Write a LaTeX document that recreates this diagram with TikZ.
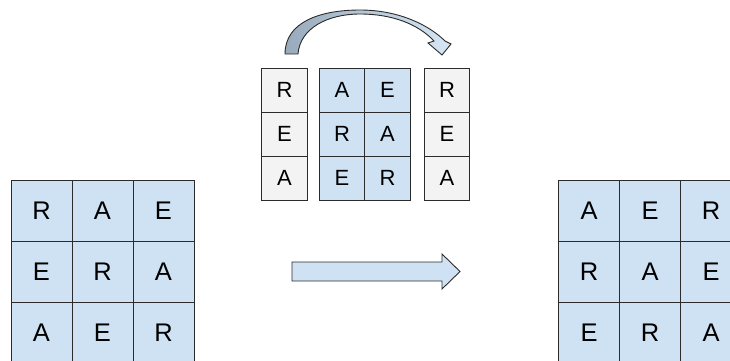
\documentclass[tikz,border=0pt]{standalone}
\usepackage{fontspec}
\setmainfont{Liberation Sans}
\usepackage{tikz}
\usetikzlibrary{positioning}
\definecolor{cellblue}{HTML}{CFE2F3}
\definecolor{cellgray}{HTML}{F3F3F3}
\definecolor{edgegray}{HTML}{2B2B2B}
\definecolor{arrowdark}{HTML}{98AABB}
\tikzset{every picture/.style={line width=1pt}}
\tikzset{
  bigcell/.style={draw=edgegray, fill=cellblue, inner sep=0pt,
    minimum width=61pt, minimum height=61pt, font=\fontsize{25.5}{25.5}\selectfont},
  smallcell/.style={draw=edgegray, fill=cellblue, inner sep=0pt,
    minimum width=45.5pt, minimum height=44pt, font=\fontsize{22}{22}\selectfont},
  sidecell/.style={smallcell, fill=cellgray},
  blockarrow/.style={draw=edgegray, line width=0.9pt, line join=miter}
}
\begin{document}
\begin{tikzpicture}[x=1pt,y=-1pt]
\useasboundingbox (0,0) rectangle (730,360);
\clip (0,0) rectangle (730,360);
% left square
\foreach \a/\b/\c [count=\r] in {R/A/E, E/R/A, A/E/R} {
  \node[bigcell] (L\r1) at (41.5, 149.5+61*\r) {\a};
  \node[bigcell] (L\r2) at (102.5, 149.5+61*\r) {\b};
  \node[bigcell] (L\r3) at (163.5, 149.5+61*\r) {\c};
}
% right square
\foreach \a/\b/\c [count=\r] in {A/E/R, R/A/E, E/R/A} {
  \node[bigcell] (R\r1) at (589, 149.5+61*\r) {\a};
  \node[bigcell] (R\r2) at (650, 149.5+61*\r) {\b};
  \node[bigcell] (R\r3) at (711, 149.5+61*\r) {\c};
}
% split square
\foreach \a/\b/\c [count=\r] in {R/A/E, E/R/A, A/E/R} {
  \node[sidecell] (S\r) at (284.5, 46+44*\r) {\a};
  \node[smallcell] (M\r1) at (342, 46+44*\r) {\b};
  \node[smallcell] (M\r2) at (387.5, 46+44*\r) {\c};
  \node[sidecell] (T\r) at (447, 46+44*\r) {\a};
}
% curved arrow
\draw[blockarrow, left color=arrowdark, right color=cellblue!85!white]
  (285,54) .. controls (285,22) and (320,10) .. (360,10)
  .. controls (400,10) and (430,26) .. (445,41) -- (451,44) -- (442,55)
  -- (428,43) -- (434,41) .. controls (418,24) and (392,14) .. (360,14)
  .. controls (328,14) and (300,28) .. (298,54) -- cycle;
% straight arrow
\draw[blockarrow, fill=cellblue]
  (292,262) -- (442,262) -- (442,254) -- (460,271.5) -- (442,289)
  -- (442,281) -- (292,281) -- cycle;
\end{tikzpicture}
\end{document}
